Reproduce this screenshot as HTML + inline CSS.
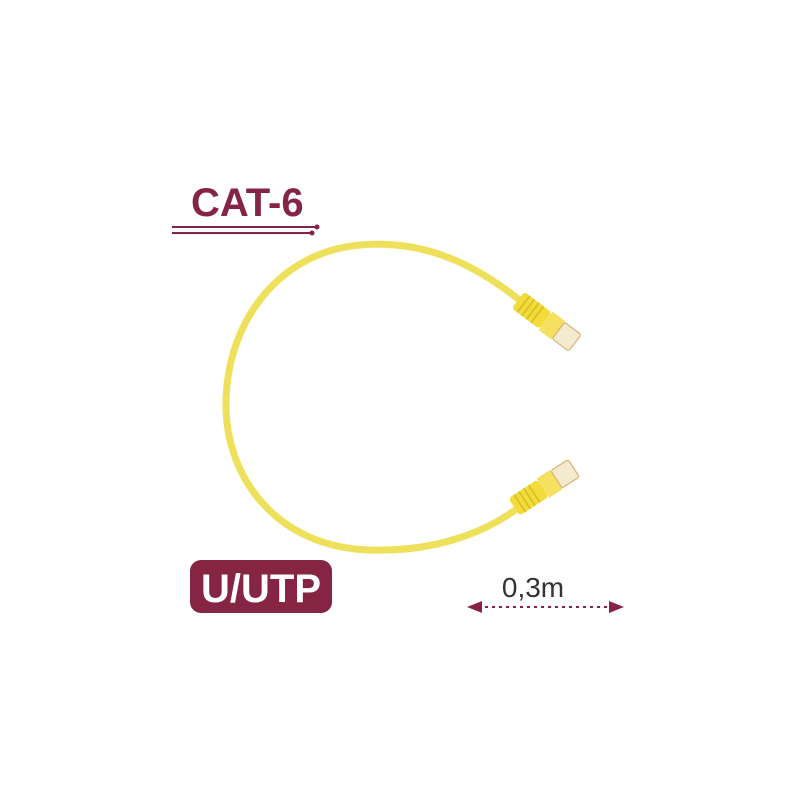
<!DOCTYPE html>
<html><head><style>body{margin:0;background:#fff}svg{display:block}</style></head><body>
<svg width="800" height="800" viewBox="0 0 800 800" xmlns="http://www.w3.org/2000/svg">
<rect width="800" height="800" fill="#fff"/>
<text x="191" y="216" font-family="Liberation Sans, sans-serif" font-weight="bold" font-size="40" fill="#862443">CAT-6</text>
<line x1="172" y1="227" x2="316" y2="227" stroke="#862443" stroke-width="2"/>
<circle cx="317" cy="227" r="2.5" fill="#862443"/>
<line x1="172" y1="233" x2="311" y2="233" stroke="#862443" stroke-width="2"/>
<circle cx="312" cy="233" r="2.5" fill="#862443"/>
<path d="M522,302 C470,260 420,240 360,245 C280,252 228,320 226,400 C224,480 280,548 370,550 C440,552 490,530 522,505" fill="none" stroke="#eee05a" stroke-width="7" stroke-linecap="round"/>
<g transform="translate(518,300) rotate(37) scale(1.15)">
<rect x="0" y="-9" width="30" height="18" rx="3" fill="#f2dc3c"/>
<g stroke="#d9bf20" stroke-width="1.5"><line x1="6" y1="-9" x2="6" y2="9"/><line x1="11" y1="-9" x2="11" y2="9"/><line x1="16" y1="-9" x2="16" y2="9"/><line x1="21" y1="-9" x2="21" y2="9"/></g>
<rect x="30" y="-10" width="14" height="20" fill="#f5e060"/>
<rect x="44" y="-9" width="18" height="18" rx="2" fill="#f3ead0" stroke="#d8b070" stroke-width="1"/>
</g>
<g transform="translate(514,507) rotate(-33) scale(1.15)">
<rect x="0" y="-9" width="30" height="18" rx="3" fill="#f2dc3c"/>
<g stroke="#d9bf20" stroke-width="1.5"><line x1="6" y1="-9" x2="6" y2="9"/><line x1="11" y1="-9" x2="11" y2="9"/><line x1="16" y1="-9" x2="16" y2="9"/><line x1="21" y1="-9" x2="21" y2="9"/></g>
<rect x="30" y="-10" width="14" height="20" fill="#f5e060"/>
<rect x="44" y="-9" width="18" height="18" rx="2" fill="#f3ead0" stroke="#d8b070" stroke-width="1"/>
</g>
<rect x="190" y="560" width="142" height="53" rx="11" fill="#862443"/>
<text x="261" y="602" text-anchor="middle" font-family="Liberation Sans, sans-serif" font-weight="bold" font-size="40" fill="#fff">U/UTP</text>
<text x="533" y="597" text-anchor="middle" font-family="Liberation Sans, sans-serif" font-size="28" fill="#333">0,3m</text>
<line x1="478" y1="607" x2="612" y2="607" stroke="#862443" stroke-width="2" stroke-dasharray="3,4"/>
<path d="M467,607 L482,601 L482,613 Z" fill="#862443"/>
<path d="M624,607 L609,601 L609,613 Z" fill="#862443"/>
</svg>
</body></html>
